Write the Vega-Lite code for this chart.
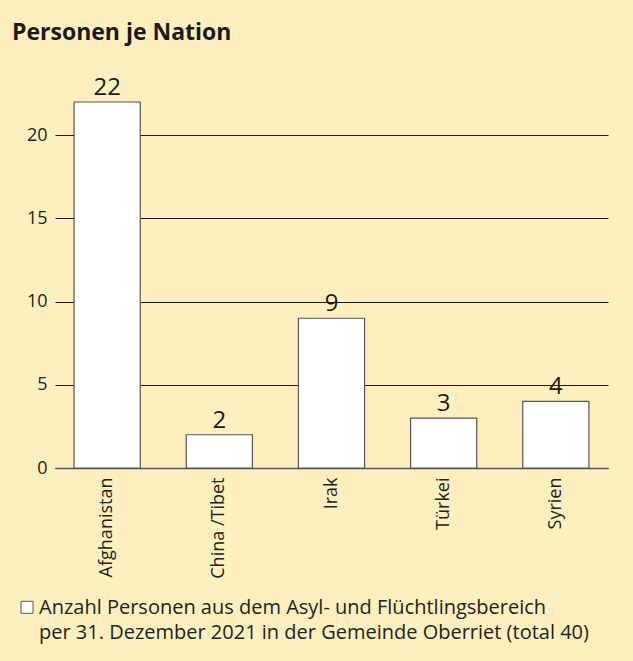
{
  "$schema": "https://vega.github.io/schema/vega-lite/v6.json",
  "autosize": "none",
  "width": 553,
  "height": 366,
  "padding": {"left": 55, "top": 102, "right": 25, "bottom": 193},
  "background": "#fef0be",
  "config": {
    "view": {"stroke": null},
    "style": {"guide-label": {"lineHeight": 25}}
  },
  "title": {
    "text": "Personen je Nation",
    "anchor": "start",
    "frame": "group",
    "dx": -43,
    "offset": 31,
    "font": "Open Sans",
    "fontSize": 23,
    "fontWeight": "bold",
    "color": "#1a1a1a"
  },
  "data": {
    "values": [
      {"nation": "Afghanistan", "personen": 22, "serie": "Anzahl Personen aus dem Asyl- und Flüchtlingsbereich|per 31. Dezember 2021 in der Gemeinde Oberriet (total 40)"},
      {"nation": "China /Tibet", "personen": 2, "serie": "Anzahl Personen aus dem Asyl- und Flüchtlingsbereich|per 31. Dezember 2021 in der Gemeinde Oberriet (total 40)"},
      {"nation": "Irak", "personen": 9, "serie": "Anzahl Personen aus dem Asyl- und Flüchtlingsbereich|per 31. Dezember 2021 in der Gemeinde Oberriet (total 40)"},
      {"nation": "Türkei", "personen": 3, "serie": "Anzahl Personen aus dem Asyl- und Flüchtlingsbereich|per 31. Dezember 2021 in der Gemeinde Oberriet (total 40)"},
      {"nation": "Syrien", "personen": 4, "serie": "Anzahl Personen aus dem Asyl- und Flüchtlingsbereich|per 31. Dezember 2021 in der Gemeinde Oberriet (total 40)"}
    ]
  },
  "encoding": {
    "x": {
      "field": "nation",
      "type": "nominal",
      "sort": null,
      "scale": {"paddingInner": 0.41, "paddingOuter": 0.17},
      "axis": {
        "title": null,
        "labelAngle": -90,
        "labelAlign": "right",
        "labelBaseline": "middle",
        "labelPadding": 9,
        "labelFont": "Open Sans",
        "labelFontSize": 18,
        "labelColor": "#222222",
        "ticks": false,
        "domain": true,
        "domainColor": "#555555",
        "domainWidth": 1.5,
        "labelLimit": 200
      }
    },
    "y": {
      "field": "personen",
      "type": "quantitative",
      "scale": {"domain": [0, 22], "nice": false},
      "axis": {
        "title": null,
        "values": [0, 5, 10, 15, 20],
        "ticks": false,
        "domain": false,
        "grid": true,
        "gridColor": "#1a1a1a",
        "gridWidth": 1,
        "gridOpacity": 1,
        "labelPadding": 8,
        "labelFont": "Open Sans",
        "labelFontSize": 18,
        "labelColor": "#222222"
      }
    }
  },
  "layer": [
    {
      "mark": {"type": "bar", "stroke": "#555555", "strokeWidth": 1.2},
      "encoding": {
        "fill": {
          "field": "serie",
          "type": "nominal",
          "scale": {"range": ["#ffffff"]},
          "legend": {
            "title": null,
            "orient": "none",
            "legendX": -38,
            "legendY": 486,
            "symbolType": "M-1,0.55L1,0.55L1,2.55L-1,2.55Z",
            "symbolSize": 144,
            "symbolStrokeColor": "#555555",
            "symbolStrokeWidth": 1,
            "labelFont": "Open Sans",
            "labelFontSize": 20,
            "labelColor": "#222222",
            "labelLimit": 700,
            "labelBaseline": "top",
            "labelOffset": 2,
            "labelExpr": "split(datum.label, '|')"
          }
        }
      }
    },
    {
      "mark": {"type": "text", "baseline": "alphabetic", "dy": -7, "font": "Open Sans", "fontSize": 24, "color": "#1a1a1a"},
      "encoding": {
        "text": {"field": "personen", "type": "quantitative"}
      }
    }
  ]
}
